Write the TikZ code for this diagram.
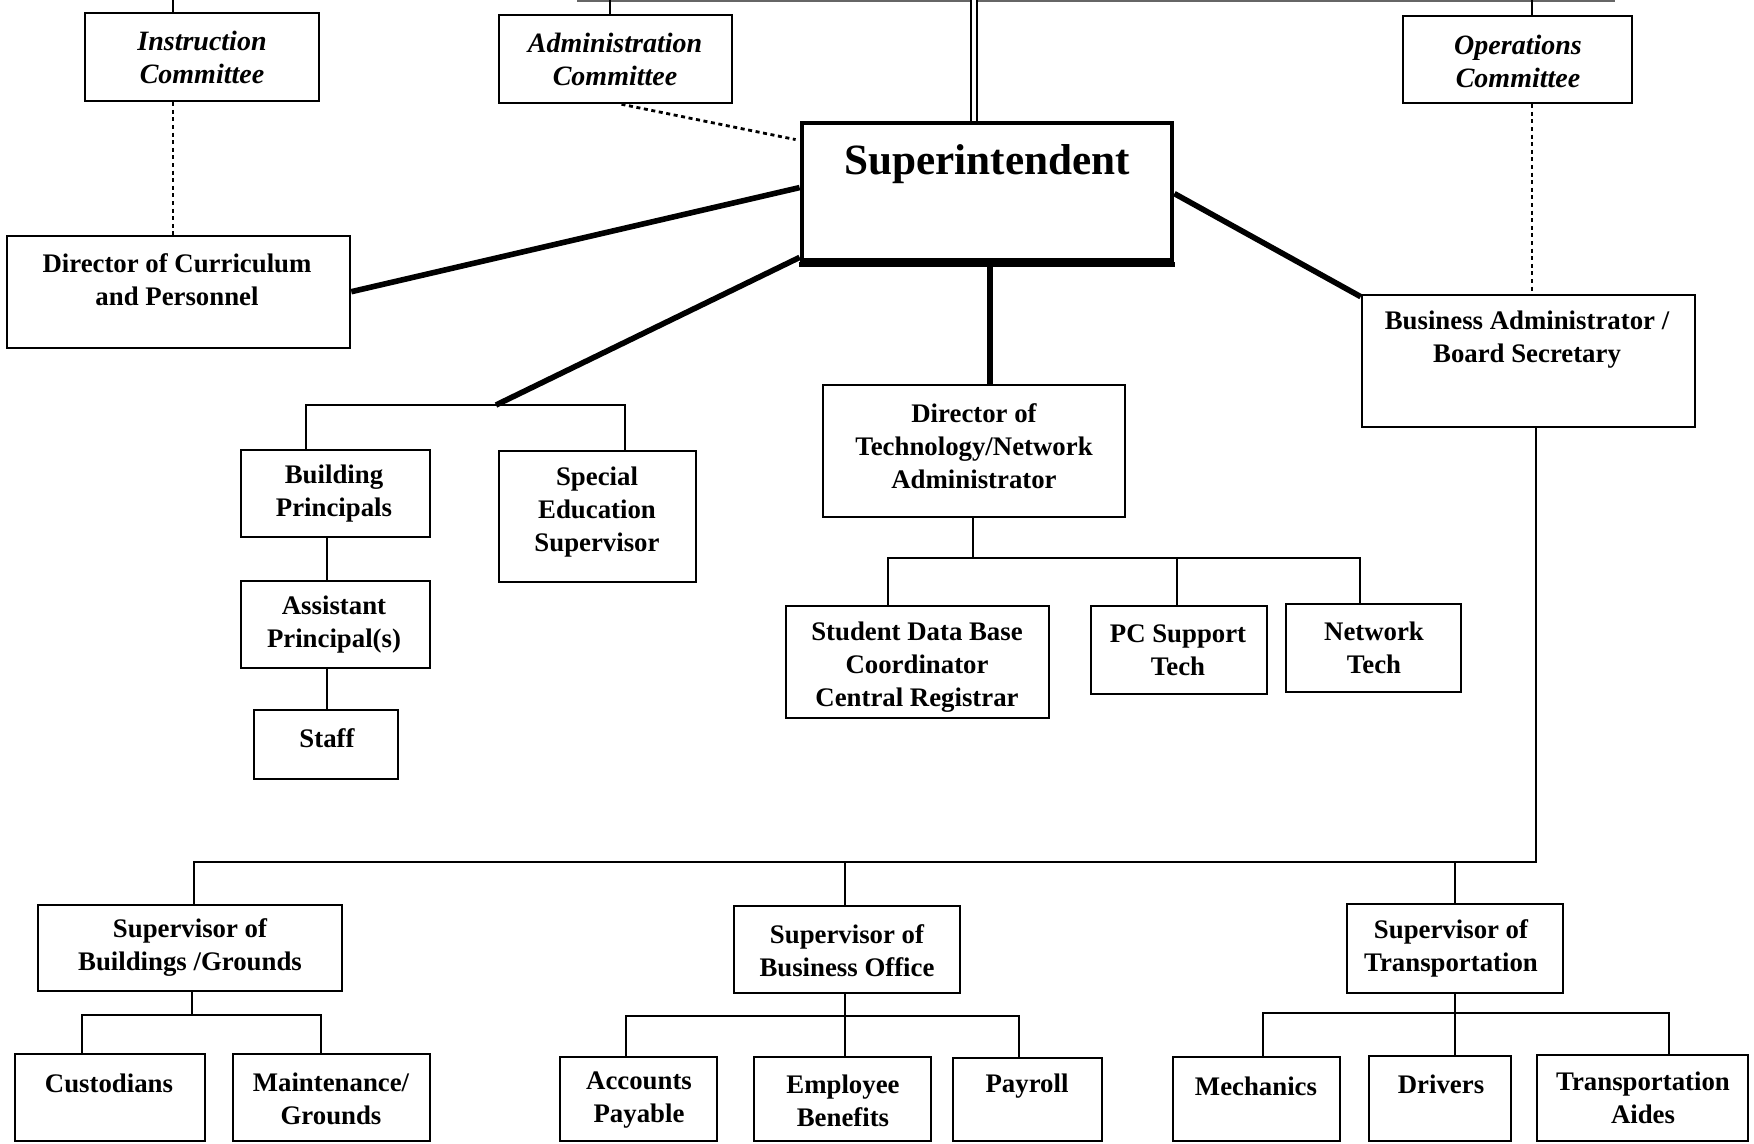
\documentclass[tikz,border=0pt]{standalone}
\usepackage{fontspec}
\setmainfont{Liberation Serif}
\usetikzlibrary{fit,calc}
\newcommand\obox[5]{\node[box, fit={(#2,#3) (#4,#5)}] (#1) {};}
\begin{document}
\begin{tikzpicture}[x=0.5pt,y=-0.5pt,
  box/.style={draw, line width=1.3pt, inner sep=0pt},
  txt/.style={font=\bfseries\fontsize{13.4}{16.5}\selectfont, align=center, inner sep=0pt},
  itxt/.style={txt, font=\bfseries\itshape\fontsize{14}{16.5}\selectfont},
  thinl/.style={line width=1.2pt},
  thickl/.style={line width=2.8pt},
  dotl/.style={line width=1.4pt, dash pattern=on 2pt off 1.8pt},
]
\useasboundingbox[fill=white] (0,0) rectangle (1754,1144);

% boxes
\obox{inst}{85}{13}{319}{101}
\obox{adm}{499}{15}{732}{103}
\obox{ops}{1403}{16}{1632}{103}
\node[box, line width=2.4pt, fit={(802,123) (1172,260)}] (sup) {};
\obox{dircur}{7}{236}{350}{348}
\obox{ba}{1362}{295}{1695}{427}
\obox{bp}{241}{450}{430}{537}
\obox{sped}{499}{451}{696}{582}
\obox{ap}{241}{581}{430}{668}
\obox{staff}{254}{710}{398}{779}
\obox{dt}{823}{385}{1125}{517}
\obox{sdb}{786}{606}{1049}{718}
\obox{pc}{1091}{606}{1267}{694}
\obox{net}{1286}{604}{1461}{692}
\obox{sbg}{38}{905}{342}{991}
\obox{sbo}{734}{906}{960}{993}
\obox{st}{1347}{904}{1563}{993}
\obox{cust}{15}{1054}{205}{1141}
\obox{maint}{233}{1054}{430}{1141}
\obox{acc}{560}{1057}{717}{1141}
\obox{emp}{754}{1057}{931}{1141}
\obox{pay}{953}{1058}{1102}{1141}
\obox{mech}{1173}{1057}{1340}{1141}
\obox{drv}{1369}{1056}{1511}{1141}
\obox{aides}{1537}{1055}{1748}{1141}
\draw[line width=2.6pt] ($(sup.south west)+(-1,2)$) -- ($(sup.south east)+(1,2)$);

% texts
\node[itxt] (instT) at (202,57) {Instruction\\Committee};
\node[itxt] (admT) at (615,59) {Administration\\Committee};
\node[itxt] (opsT) at (1518,61) {Operations\\Committee};
\node[txt, font=\bfseries\fontsize{21.6}{24}\selectfont] (supT) at (987,164) {Superintendent};
\node[txt] (dircurT) at (177,280) {Director of Curriculum\\and Personnel};
\node[txt] (baT) at (1527,340) {Business Administrator /\\Board Secretary};
\node[txt] (bpT) at (334,494) {Building\\Principals};
\node[txt] (spedT) at (597,512) {Special\\Education\\Supervisor};
\node[txt] (apT) at (334,625) {Assistant\\Principal(s)};
\node[txt] (staffT) at (327,738) {Staff};
\node[txt] (dtT) at (974,446) {Director of\\Technology/Network\\Administrator};
\node[txt] (sdbT) at (917,667) {Student Data Base\\Coordinator\\Central Registrar};
\node[txt] (pcT) at (1178,650) {PC Support\\Tech};
\node[txt] (netT) at (1374,648) {Network\\Tech};
\node[txt] (sbgT) at (190,948) {Supervisor of\\Buildings /Grounds};
\node[txt] (sboT) at (847,951) {Supervisor of\\Business Office};
\node[txt] (stT) at (1451,948) {Supervisor of\\Transportation};
\node[txt] (custT) at (109,1083) {Custodians};
\node[txt] (maintT) at (331,1099) {Maintenance/\\Grounds};
\node[txt] (accT) at (639,1100) {Accounts\\Payable};
\node[txt] (empT) at (843,1101) {Employee\\Benefits};
\node[txt] (payT) at (1027,1086) {Payroll};
\node[txt] (mechT) at (1256,1086) {Mechanics};
\node[txt] (drvT) at (1441,1084) {Drivers};
\node[txt] (aidesT) at (1643,1098) {Transportation\\Aides};

% top connections
\coordinate (topI) at (173,0);
\coordinate (topA) at (610,0);
\coordinate (topS) at (974,0);
\coordinate (topO) at (1532,0);
\coordinate (topL) at (577,1);
\coordinate (topR) at (1615,1);
\draw[line width=0.7pt, black!60] (topL) -- (topR);
\draw[thinl] (topI) -- (topI |- inst.north);
\draw[thinl] (topA) -- (topA |- adm.north);
\draw[thinl] (topO) -- (topO |- ops.north);
\draw[line width=1.3pt, double, double distance=1.8pt] (topS) -- (topS |- sup.north);

% dotted
\draw[dotl] (inst.south -| topI) -- (topI |- dircur.north);
\draw[dotl] ($(adm.south)+(6,0)$) -- ($(sup.north west)+(-4,19)$);
\draw[dotl] (ops.south -| topO) -- (topO |- ba.north);

% thick
\coordinate (bj) at (496,405);
\coordinate (bjL) at (306,405);
\coordinate (bjR) at (625,405);
\coordinate (dtx) at (990,0);
\draw[thickl] ($(sup.north west)+(0,67)$) -- ($(dircur.north east)+(0,57)$);
\draw[thickl] ($(sup.south west)+(0,-5)$) -- (bj);
\draw[thickl] (sup.south -| dtx) -- (dtx |- dt.north);
\draw[thickl] ($(sup.north east)+(0,73)$) -- ($(ba.north west)+(0,3)$);

% principals
\coordinate (bpx) at (327,0);
\draw[thinl] (bjL |- bp.north) -- (bjL) -- (bjR) -- (bjR |- sped.north);
\draw[thinl] (bp.south -| bpx) -- (bpx |- ap.north);
\draw[thinl] (ap.south -| bpx) -- (bpx |- staff.north);

% technology
\coordinate (tb) at (973,558);
\coordinate (tbL) at (888,558);
\coordinate (tbM) at (1177,558);
\coordinate (tbR) at (1360,558);
\draw[thinl] (dt.south -| tb) -- (tb);
\draw[thinl] (tbL |- sdb.north) -- (tbL) -- (tbR) -- (tbR |- net.north);
\draw[thinl] (tbM) -- (tbM |- pc.north);

% business admin
\coordinate (bb) at (1536,862);
\coordinate (bbL) at (194,862);
\coordinate (bbM) at (845,862);
\coordinate (bbT) at (1455,862);
\draw[thinl] (ba.south -| bb) -- (bb) -- (bbL) -- (bbL |- sbg.north);
\draw[thinl] (bbM) -- (bbM |- sbo.north);
\draw[thinl] (bbT) -- (bbT |- st.north);

% buildings/grounds
\coordinate (g) at (192,1015);
\coordinate (gL) at (82,1015);
\coordinate (gR) at (321,1015);
\draw[thinl] (sbg.south -| g) -- (g);
\draw[thinl] (gL |- cust.north) -- (gL) -- (gR) -- (gR |- maint.north);

% business office
\coordinate (o) at (845,1016);
\coordinate (oL) at (626,1016);
\coordinate (oR) at (1019,1016);
\draw[thinl] (sbo.south -| o) -- (o |- emp.north);
\draw[thinl] (oL |- acc.north) -- (oL) -- (oR) -- (oR |- pay.north);

% transportation
\coordinate (t) at (1455,1013);
\coordinate (tL) at (1263,1013);
\coordinate (tR) at (1669,1013);
\draw[thinl] (st.south -| t) -- (t |- drv.north);
\draw[thinl] (tL |- mech.north) -- (tL) -- (tR) -- (tR |- aides.north);
\end{tikzpicture}
\end{document}
